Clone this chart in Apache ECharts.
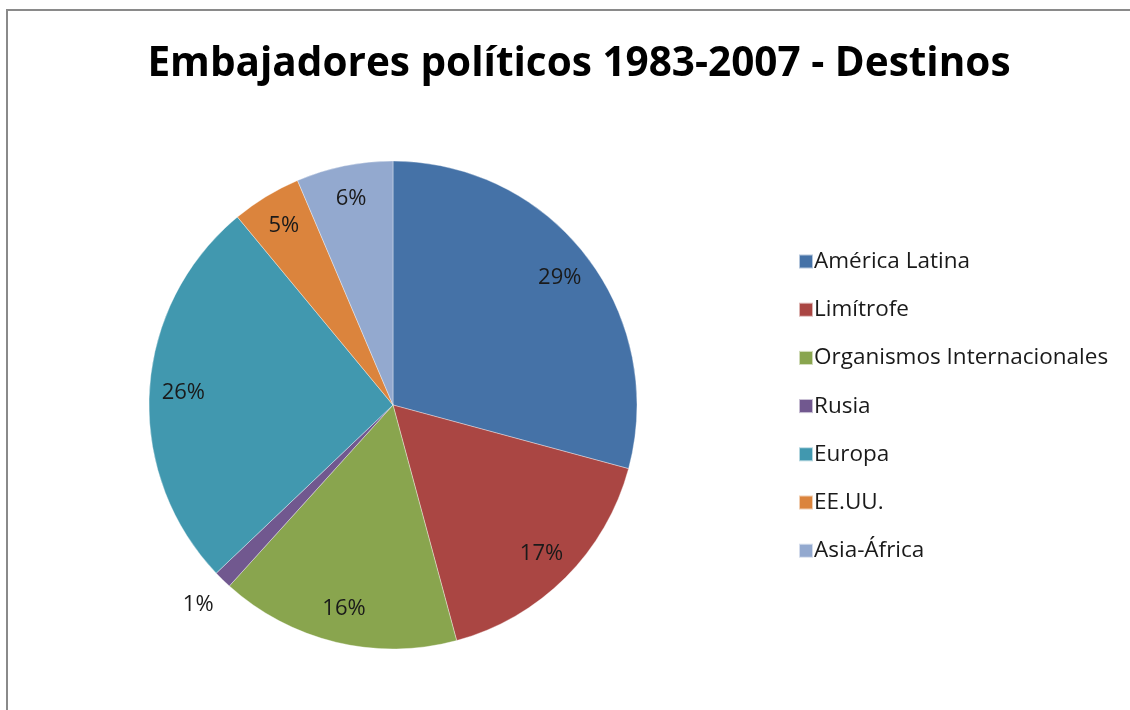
<!DOCTYPE html>
<html>
<head>
<meta charset="utf-8">
<script src="https://cdn.jsdelivr.net/npm/echarts@6/dist/echarts.min.js"></script>
<style>
  html, body { margin: 0; padding: 0; background: #fff; overflow: hidden; }
  #frame {
    position: absolute; left: 6px; top: 9px; right: 0; bottom: 0;
    border-top: 2px solid #8a8a8a; border-left: 2px solid #8a8a8a;
  }
  #chart { position: absolute; left: 0; top: 0; width: 1130px; height: 710px; }
</style>
</head>
<body>
<div id="frame"></div>
<div id="chart"></div>
<script>
// datos (porcentaje aproximado por sector)
const categories = ['América Latina', 'Limítrofe', 'Organismos Internacionales', 'Rusia', 'Europa', 'EE.UU.', 'Asia-África'];
const values = [29.2, 16.6, 15.9, 1.2, 26.1, 4.6, 6.4];
const colors = ['#4572A7', '#AA4643', '#89A54E', '#71588F', '#4198AF', '#DB843D', '#93A9CF'];
const outsideLabels = ['Rusia']; // etiquetas fuera del sector

const center = [393, 405];
const pieData = categories.map((name, i) => ({ name, value: values[i] }));
const pctLabel = (p) => Math.round(p.percent) + '%';
const labelFont = { fontFamily: 'Open Sans', fontSize: 22, color: '#1a1a1a' };

const chart = echarts.init(document.getElementById('chart'));
const option = {
  color: colors,
  animation: false,
  title: {
    text: 'Embajadores políticos 1983-2007 - Destinos',
    left: 574,
    top: 39,
    textAlign: 'center',
    textStyle: { fontFamily: 'Open Sans', fontWeight: 'bold', fontSize: 40.5, color: '#000' },
  },
  legend: {
    orient: 'vertical',
    left: 793,
    top: 245,
    itemWidth: 14,
    itemHeight: 14,
    itemGap: 25.2,
    icon: 'rect',
    data: categories,
    textStyle: { fontFamily: 'Open Sans', fontSize: 22.5, color: '#1a1a1a', padding: [0, 0, 0, -4] },
  },
  series: [
    {
      // sectores
      type: 'pie',
      center,
      radius: [0, 244],
      startAngle: 90,
      clockwise: true,
      label: { show: false },
      labelLine: { show: false },
      itemStyle: { borderColor: 'rgba(255,255,255,0.6)', borderWidth: 0.6 },
      data: pieData,
    },
    {
      // etiquetas interiores
      type: 'pie',
      center,
      radius: [170, 244],
      silent: true,
      legendHoverLink: false,
      itemStyle: { color: 'rgba(0,0,0,0)' },
      label: { show: true, position: 'inside', formatter: pctLabel, ...labelFont },
      labelLine: { show: false },
      data: pieData.map((d) => ({
        ...d,
        label: { show: !outsideLabels.includes(d.name) },
      })),
    },
    {
      // etiquetas exteriores
      type: 'pie',
      center,
      radius: [262, 290],
      silent: true,
      legendHoverLink: false,
      itemStyle: { color: 'rgba(0,0,0,0)' },
      label: { show: true, position: 'inside', formatter: pctLabel, ...labelFont },
      labelLine: { show: false },
      data: pieData.map((d) => ({
        ...d,
        label: { show: outsideLabels.includes(d.name) },
      })),
    },
  ],
};
chart.setOption(option);
</script>
</body>
</html>
